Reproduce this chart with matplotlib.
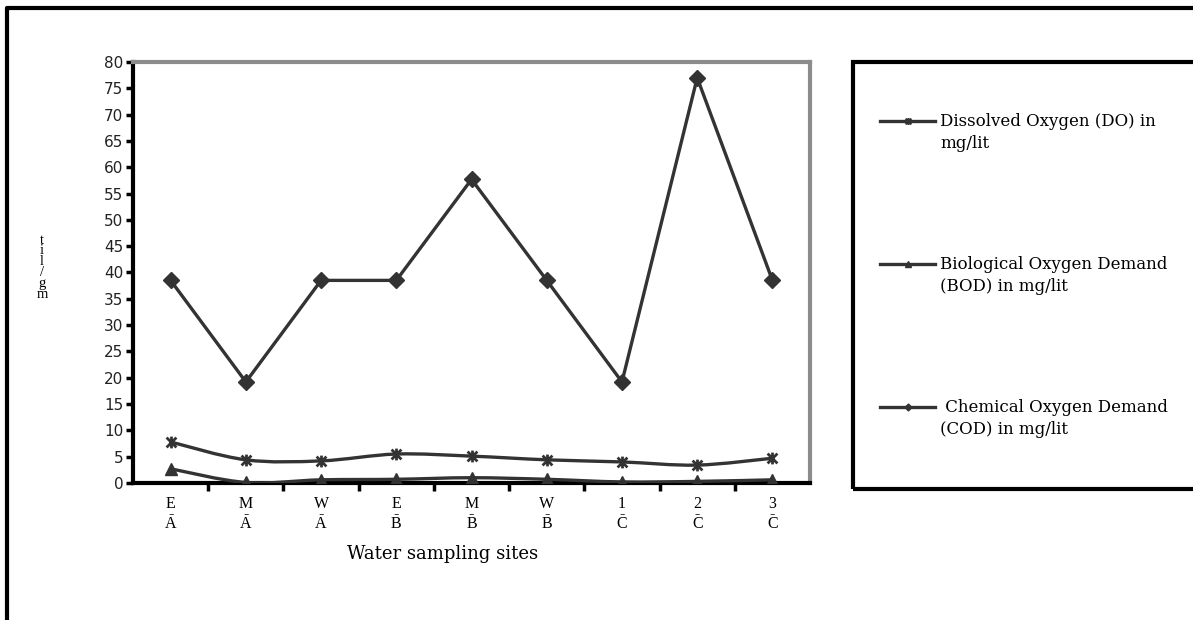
import numpy as np
import matplotlib
matplotlib.use("Agg")
import matplotlib.pyplot as plt
from matplotlib.path import Path
from matplotlib.patches import PathPatch, Rectangle
from matplotlib.lines import Line2D

# sampling sites (upper line / lower line of each tick label)
site_top = ["E", "M", "W", "E", "M", "W", "1", "2", "3"]
site_bot = ["A", "A", "A", "B", "B", "B", "C", "C", "C"]

do_vals  = [7.8, 4.4, 4.2, 5.5, 5.1, 4.4, 4.0, 3.4, 4.7]
bod_vals = [2.7, 0.1, 0.6, 0.7, 1.0, 0.7, 0.2, 0.3, 0.6]
cod_vals = [38.5, 19.2, 38.5, 38.5, 57.7, 38.5, 19.2, 77.0, 38.5]

labels = ["Dissolved Oxygen (DO) in\nmg/lit",
          "Biological Oxygen Demand\n(BOD) in mg/lit",
          " Chemical Oxygen Demand\n(COD) in mg/lit"]

LINE = "#333333"
SERIF = ["DejaVu Serif"]
SERIF_T = ["Liberation Serif", "DejaVu Serif"]

# x with a vertical bar through it
STAR = Path([(-1, -1), (1, 1), (-1, 1), (1, -1), (0, -1.2), (0, 1.2)],
            [Path.MOVETO, Path.LINETO, Path.MOVETO, Path.LINETO,
             Path.MOVETO, Path.LINETO])


def smooth_path(x, y):
    # Catmull-Rom style cubic bezier through every point
    p = np.column_stack([x, y]).astype(float)
    ext = np.vstack([p[0], p, p[-1]])
    verts = [p[0]]
    codes = [Path.MOVETO]
    for i in range(len(p) - 1):
        p0, p1, p2, p3 = ext[i], ext[i + 1], ext[i + 2], ext[i + 3]
        verts += [p1 + (p2 - p0) / 6, p2 - (p3 - p1) / 6, p2]
        codes += [Path.CURVE4] * 3
    return Path(verts, codes)


fig = plt.figure(figsize=(11.93, 6.2), dpi=100)
ax = fig.add_axes([0.1115, 0.221, 0.5675, 0.679])

x = np.arange(len(site_top))
for vals in (do_vals, bod_vals):
    ax.add_patch(PathPatch(smooth_path(x, vals), fill=False, ec=LINE, lw=2.4,
                           capstyle="round", zorder=3))
ax.plot(x, cod_vals, color=LINE, lw=2.4, zorder=3)

ax.plot(x, do_vals, ls="none", marker=STAR, ms=8.5, mew=2, mec=LINE, zorder=4)
ax.plot(x, bod_vals, ls="none", marker="^", ms=8.5, mfc=LINE, mec=LINE, zorder=4)
ax.plot(x, cod_vals, ls="none", marker="D", ms=8, mfc=LINE, mec=LINE, zorder=4)

ax.set_xlim(-0.5, len(x) - 0.5)
ax.set_ylim(0, 80)
ax.set_yticks(np.arange(0, 81, 5))
ax.tick_params(axis="y", direction="out", length=5, width=2.5, labelsize=11,
               pad=2, labelcolor="#222222")
ax.set_xticks(np.arange(0.5, len(x) - 0.5, 1))
ax.set_xticklabels([])
ax.tick_params(axis="x", direction="out", length=6, width=2.5)

for s in ("left", "bottom"):
    ax.spines[s].set_linewidth(3)
    ax.spines[s].set_color("black")
for s in ("top", "right"):
    ax.spines[s].set_linewidth(3)
    ax.spines[s].set_color("#8c8c8c")

# stacked site labels with a short dash between the two letters
for xi, t, b in zip(x, site_top, site_bot):
    ax.text(xi, -2.5, f"{t}\n-\n{b}", ha="center", va="top", fontsize=11.5,
            family=SERIF_T, linespacing=0.5)

fig.text(443 / 1193, 1 - 554 / 620, "Water sampling sites", ha="center",
         va="center", fontsize=13, family=SERIF)
fig.text(42 / 1193, 1 - 267 / 620, "t\ni\nl\n/\ng\nm", ha="center",
         va="center", fontsize=10.5, family=SERIF_T, linespacing=0.78)

# outer frame (top and left edges)
fig.add_artist(Line2D([7 / 1193, 7 / 1193, 1], [0, 1 - 8 / 620, 1 - 8 / 620],
                      transform=fig.transFigure, color="black", lw=3))

# legend box
fig.add_artist(Rectangle((853 / 1193, 1 - 489 / 620), 0.4, 427 / 620,
                         transform=fig.transFigure, fill=False,
                         ec="black", lw=3))
markers = [dict(marker=STAR, ms=5, mew=1.5),
           dict(marker="^", ms=4, mfc=LINE),
           dict(marker="D", ms=3.5, mfc=LINE)]
for ypx, lab, mk in zip([121, 264, 407], labels, markers):
    yf = 1 - ypx / 620
    fig.add_artist(Line2D([880 / 1193, 935 / 1193], [yf, yf],
                          transform=fig.transFigure, color=LINE, lw=2.4))
    fig.add_artist(Line2D([907.5 / 1193], [yf], transform=fig.transFigure,
                          ls="none", mec=LINE, **mk))
    fig.text(940 / 1193, yf + 8 / 620, lab, ha="left", va="top",
             fontsize=12, family=SERIF, linespacing=1.35)

fig.savefig("out.png", dpi=100)
